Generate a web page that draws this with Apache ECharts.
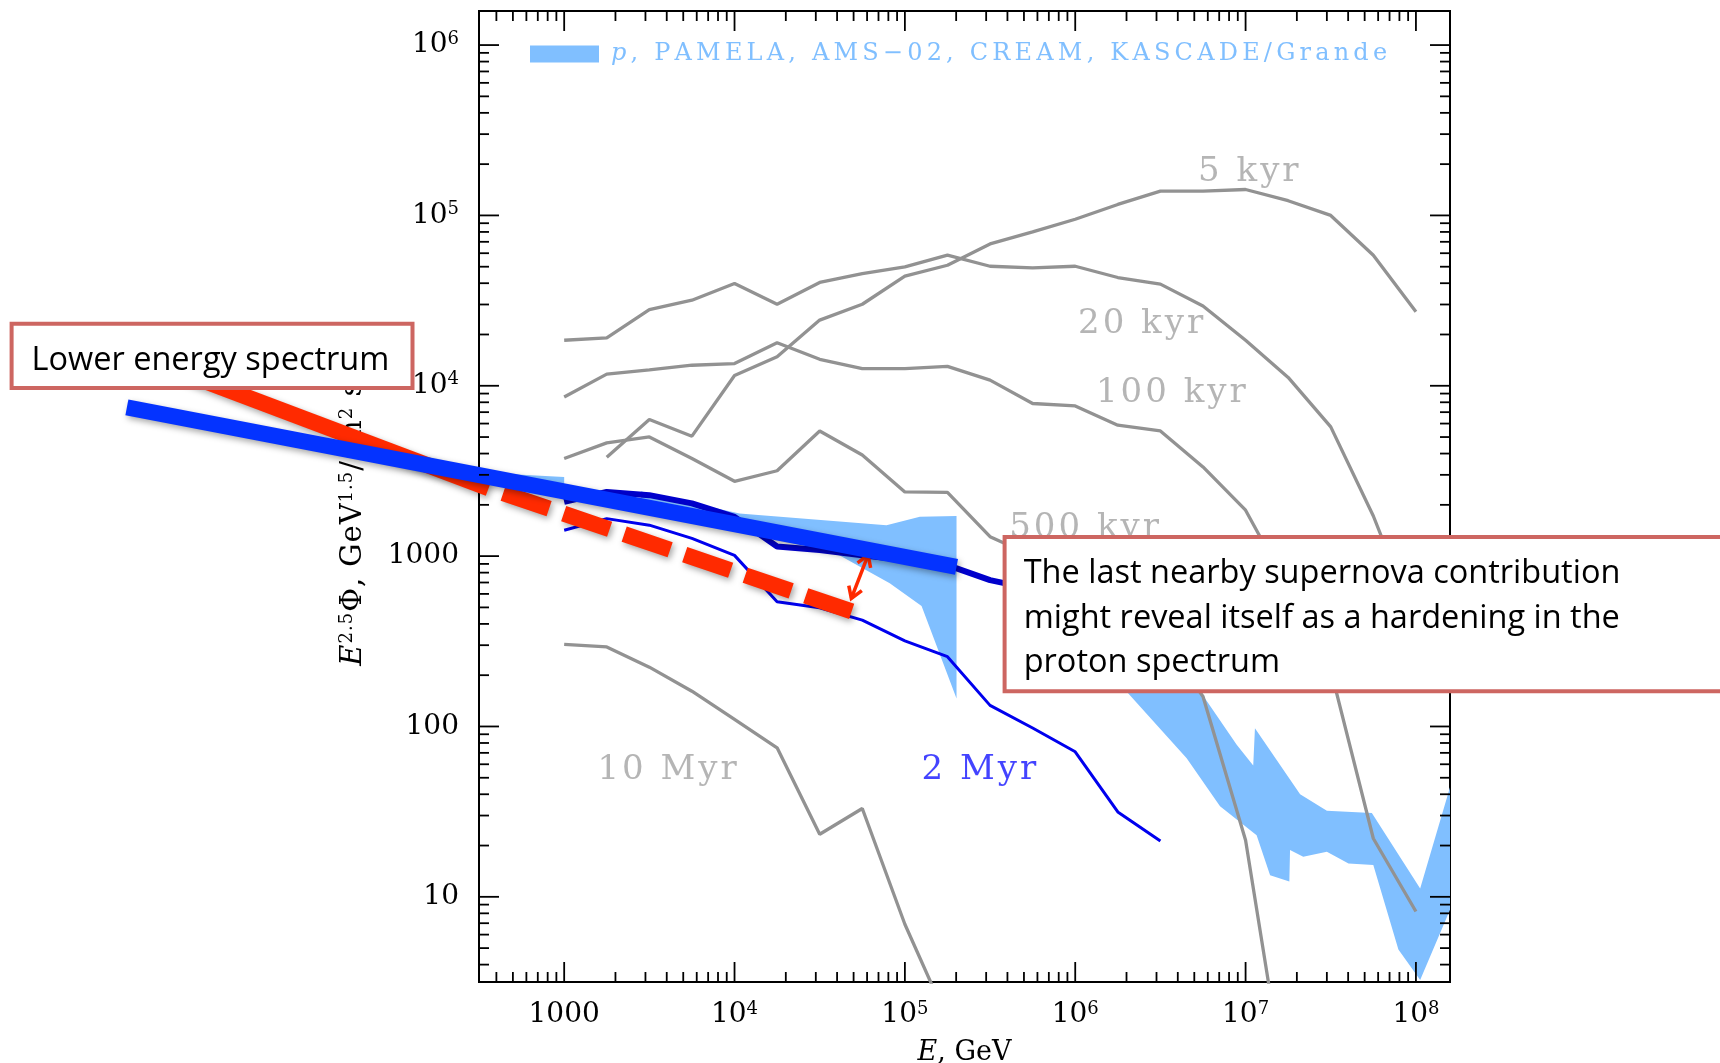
<!DOCTYPE html>
<html>
<head>
<meta charset="utf-8">
<script src="https://cdn.jsdelivr.net/npm/echarts@6/dist/echarts.min.js"></script>
<style>
  html, body { margin: 0; padding: 0; background: #ffffff; }
  #chart { width: 1720px; height: 1063px; }
</style>
</head>
<body>
<div id="chart"></div>
<script>
// ---- axis extents (log scale) ----
const X_MIN = Math.pow(10, 2.5);
const X_MAX = Math.pow(10, 8.2);
const Y_MIN = Math.pow(10, 0.5);
const Y_MAX = Math.pow(10, 6.2);

// ---- tick values ----
const xMajorTicks = [1e3, 1e4, 1e5, 1e6, 1e7, 1e8];
const yMajorTicks = [10, 100, 1000, 1e4, 1e5, 1e6];
const minorMultipliers = [2, 3, 4, 5, 6, 7, 8, 9];

// ---- energy grid of the model curves, GeV ----
const energyGrid = [1000, 1778, 3162, 5623, 10000, 17780, 31620, 56230,
  1e5, 1.778e5, 3.162e5, 5.623e5, 1e6, 1.778e6, 3.162e6, 5.623e6,
  1e7, 1.778e7, 3.162e7, 5.623e7, 1e8];

// ---- E^2.5 * flux of a single source at several ages ----
const flux5kyr   = [null, 3800, 6340, 5060, 11500, 14800, 24300, 30100, 44000, 51000, 68000,
  80000, 95000, 116000, 139000, 139000, 142000, 122000, 100000, 58400, 27200];
const flux20kyr  = [18500, 19100, 28000, 31800, 39800, 30100, 40400, 45600, 49900, 58400, 50300,
  49200, 50300, 43200, 39500, 29400, 18500, 11200, 5740, 1720, 400];
const flux100kyr = [8600, 11700, 12400, 13200, 13500, 17900, 14300, 12600, 12600, 13000, 10800,
  7870, 7620, 5870, 5430, 3340, 1860, 650, 215, 22, 8.2];
const flux500kyr = [3740, 4620, 5010, 3740, 2750, 3170, 5430, 3920, 2380, 2370, 1300,
  1000, 750, 520, 340, 150, 21.5, 0.6, null, null, null];
const flux10Myr  = [303, 293, 223, 161, 110, 75, 23.3, 33, 6.9, 1.9, null,
  null, null, null, null, null, null, null, null, null, null];
const flux2Myr   = [1420, 1660, 1520, 1270, 1010, 540, 498, 421, 318, 257, 133,
  98, 71, 31.5, 21.3, null, null, null, null, null, null];
const flux2MyrTotal = [2080, 2380, 2280, 2040, 1700, 1140, 1085, 1010, 950, 885, 723,
  640, null, null, null, null, null, null, null, null, null];

// ---- measured proton band (upper edge left->right, lower edge right->left) ----
const pamelaUpperE = [316.2, 1000];
const pamelaUpperV = [3100, 2910];
const pamelaLowerE = [1000, 316.2];
const pamelaLowerV = [2500, 2700];

const creamUpperE = [2820, 3162, 10700, 78000, 122400, 201000];
const creamUpperV = [2400, 2330, 1780, 1520, 1700, 1720];
const creamLowerE = [201000, 125300, 81500, 41500, 10000, 2820];
const creamLowerV = [146, 509, 692, 1010, 1550, 2150];

const kascadeUpperE = [8.91e5, 2.0e6, 5.52e6, 8.87e6, 1.109e7, 1.135e7, 2.09e7, 3.0e7, 5.51e7, 1.059e8, 1.5849e8];
const kascadeUpperV = [890, 630, 156, 78, 59, 97.5, 40, 32, 31, 11.2, 44];
const kascadeLowerE = [1.5849e8, 1.059e8, 7.89e7, 5.62e7, 4.02e7, 3.0e7, 2.18e7, 1.824e7, 1.807e7,
  1.393e7, 1.161e7, 7.08e6, 4.51e6, 2.05e6, 8.91e5];
const kascadeLowerV = [8.4, 3.25, 4.9, 15.4, 15.7, 18.4, 17.2, 18.8, 12.3, 13.4, 23, 34, 65, 156, 400];

// ---- hand-drawn power-law guides ----
const lowerEnergyFitE = [2.71, 201000];
const lowerEnergyFitV = [7460, 865];
const softSpectrumE = [3.67, 360];
const softSpectrumV = [14130, 2506];
const softExtrapolationE = [360, 49660];
const softExtrapolationV = [2506, 471];
const hardeningGapE = [60800, 48500];
const hardeningGapV = [1014, 565];

// ---- text ----
const LEGEND_NAME = 'p, PAMELA, AMS\u221202, CREAM, KASCADE/Grande';
const curveLabelText = ['5 kyr', '20 kyr', '100 kyr', '500 kyr', '10 Myr', '2 Myr'];

// ---- styles ----
const GRAY = '#929292';
const GRAY_TEXT = '#a3a3a3';
const BAND_COLOR = '#80bfff';
const BLUE = '#0000ee';
const BLUE_DARK = '#0000cc';
const GUIDE_BLUE = '#0433ff';
const GUIDE_RED = '#ff2a00';
const BOX_STROKE = '#cd6661';
const SERIF = 'DejaVu Serif';
const SANS = 'Open Sans';

// where each curve label sits, in data coordinates
const curveLabelAnchor = [
  [1.038e7, 1.795e5], [2.42e6, 22860], [3.64e6, 9080],
  [1.127e6, 1466], [4018, 55.2], [2.72e5, 55.2]
];

function pairs(xs, ys) {
  const out = [];
  xs.forEach((x, i) => { if (ys[i] != null) out.push([x, ys[i]]); });
  return out;
}

// one rich-text token per character, so the style's padding spaces the letters out
function spaced(text, style) {
  return Array.from(text).map(ch => '{' + style + '|' + ch + '}').join('');
}

const bandPieces = [
  { upE: pamelaUpperE, upV: pamelaUpperV, loE: pamelaLowerE, loV: pamelaLowerV },
  { upE: creamUpperE, upV: creamUpperV, loE: creamLowerE, loV: creamLowerV },
  { upE: kascadeUpperE, upV: kascadeUpperV, loE: kascadeLowerE, loV: kascadeLowerV }
];

function decadeLabel(v) {
  const e = Math.log10(v);
  const r = Math.round(e);
  if (Math.abs(e - r) > 1e-6) return '';
  if (r <= 3) return '{b|' + Math.round(Math.pow(10, r)) + '}';
  return '{b|10}{s|' + r + '}';
}

const tickRich = {
  b: { fontFamily: SERIF, fontSize: 28, lineHeight: 30, color: '#000' },
  s: { fontFamily: SERIF, fontSize: 18, lineHeight: 18, color: '#000', verticalAlign: 'top' }
};

function minorTicks(lo, hi, dMin, dMax) {
  const out = [];
  for (let d = dMin; d <= dMax; d++) {
    minorMultipliers.forEach(k => {
      const v = k * Math.pow(10, d);
      if (v > lo && v < hi) out.push(v);
    });
  }
  return out;
}
const xMinorTicks = minorTicks(X_MIN, X_MAX, 2, 8);
const yMinorTicks = minorTicks(Y_MIN, Y_MAX, 0, 6);

function grayLine(values) {
  return {
    type: 'line', data: pairs(energyGrid, values), showSymbol: false, symbol: 'none',
    lineStyle: { color: GRAY, width: 3.3 }, z: 3, silent: true
  };
}

const guideShadow = { shadowColor: 'rgba(0,0,0,0.35)', shadowBlur: 6, shadowOffsetX: 2, shadowOffsetY: 3 };

// thick guide line drawn through the axes' scales, allowed to run past the frame
function guideSeries(es, vs, extraStyle, z) {
  return {
    type: 'custom', coordinateSystem: 'cartesian2d', clip: false, silent: true, z: z,
    data: [[es[0], vs[0]]], encode: { x: 0, y: 1 },
    renderItem(params, api) {
      const pts = es.map((e, i) => api.coord([e, vs[i]]));
      return {
        type: 'polyline', shape: { points: pts },
        style: Object.assign({ fill: null, lineWidth: 16, lineCap: 'butt' }, guideShadow, extraStyle)
      };
    }
  };
}

const yTitle = '{i|E}' + spaced('2.5', 's') + spaced('\u03A6, GeV', 'n') + spaced('1.5', 's') +
  spaced('/(m', 'n') + spaced('2', 's') + spaced(' s sr)', 'n');

const chart = echarts.init(document.getElementById('chart'), null, { renderer: 'canvas' });

const option = {
  animation: false,
  backgroundColor: '#ffffff',
  grid: {
    left: 479, top: 11, width: 971, height: 971,
    show: true, borderColor: '#000', borderWidth: 2, backgroundColor: 'transparent',
    containLabel: false, outerBoundsMode: 'none'
  },
  legend: {
    data: [LEGEND_NAME], left: 530, top: 42, padding: 0, selectedMode: false,
    icon: 'rect', itemWidth: 69, itemHeight: 17,
    formatter: () => '{ip|p}' + spaced(', PAMELA, AMS\u221202, CREAM, KASCADE/Grande', 'n'),
    textStyle: {
      color: BAND_COLOR,
      rich: {
        ip: { fontFamily: SERIF, fontStyle: 'italic', fontSize: 24, lineHeight: 28, color: BAND_COLOR, padding: [0, 4.2, 0, 7] },
        n: { fontFamily: SERIF, fontSize: 24, lineHeight: 28, color: BAND_COLOR, padding: [0, 4.2, 0, 0] }
      }
    }
  },
  xAxis: {
    type: 'log', logBase: 10, min: X_MIN, max: X_MAX,
    axisLine: { show: false }, axisTick: { show: false }, splitLine: { show: false },
    minorTick: { show: false },
    axisLabel: { formatter: decadeLabel, margin: 18, rich: tickRich, showMinLabel: true, showMaxLabel: true, hideOverlap: false },
    name: '{i|E}{n|, GeV}', nameLocation: 'middle', nameGap: 57, nameMoveOverlap: false,
    nameTextStyle: {
      rich: {
        i: { fontFamily: SERIF, fontStyle: 'italic', fontSize: 27, color: '#000' },
        n: { fontFamily: SERIF, fontSize: 27, color: '#000' }
      }
    }
  },
  yAxis: {
    type: 'log', logBase: 10, min: Y_MIN, max: Y_MAX,
    axisLine: { show: false }, axisTick: { show: false }, splitLine: { show: false },
    minorTick: { show: false },
    axisLabel: { formatter: decadeLabel, margin: 20, rich: tickRich, showMinLabel: true, showMaxLabel: true, hideOverlap: false },
    name: yTitle,
    nameLocation: 'middle', nameGap: 110, nameMoveOverlap: false,
    nameTextStyle: {
      rich: {
        i: { fontFamily: SERIF, fontStyle: 'italic', fontSize: 29, lineHeight: 31, color: '#000', padding: [0, 1, 0, 0] },
        n: { fontFamily: SERIF, fontSize: 29, lineHeight: 31, color: '#000', padding: [0, 1, 0, 0] },
        s: { fontFamily: SERIF, fontSize: 18, lineHeight: 19, color: '#000', verticalAlign: 'top', padding: [0, 1, 0, 0] }
      }
    }
  },
  graphic: [
    { type: 'rect', z: 100, shape: { x: 11.6, y: 323.7, width: 400.9, height: 64.3 },
      style: { fill: '#ffffff', stroke: BOX_STROKE, lineWidth: 4 } },
    { type: 'text', z: 101,
      style: { text: 'Lower energy spectrum', x: 31.5, y: 360.5, fontFamily: SANS, fontSize: 32.5,
        fill: '#000', align: 'left', verticalAlign: 'middle' } },
    { type: 'rect', z: 100, shape: { x: 1004.6, y: 537, width: 760, height: 154.3 },
      style: { fill: '#ffffff', stroke: BOX_STROKE, lineWidth: 4 } },
    { type: 'text', z: 101,
      style: { text: 'The last nearby supernova contribution\nmight reveal itself as a hardening in the\nproton spectrum',
        x: 1023.7, y: 551.5, fontFamily: SANS, fontSize: 32.5, lineHeight: 44.5,
        fill: '#000', align: 'left', verticalAlign: 'top' } }
  ],
  series: [
    {
      type: 'custom', name: LEGEND_NAME, coordinateSystem: 'cartesian2d', z: 1, silent: true,
      itemStyle: { color: BAND_COLOR },
      data: bandPieces.map(p => [p.upE[0], p.upV[0]]),
      encode: { x: 0, y: 1 },
      renderItem(params, api) {
        const piece = bandPieces[params.dataIndex];
        const pts = [];
        piece.upE.forEach((e, i) => pts.push(api.coord([e, piece.upV[i]])));
        piece.loE.forEach((e, i) => pts.push(api.coord([e, piece.loV[i]])));
        return { type: 'polygon', shape: { points: pts }, style: { fill: BAND_COLOR } };
      }
    },
    grayLine(flux5kyr),
    grayLine(flux20kyr),
    grayLine(flux100kyr),
    grayLine(flux500kyr),
    grayLine(flux10Myr),
    {
      type: 'line', data: pairs(energyGrid, flux2Myr), showSymbol: false, symbol: 'none',
      lineStyle: { color: BLUE, width: 3 }, z: 4, silent: true
    },
    {
      type: 'line', data: pairs(energyGrid, flux2MyrTotal), showSymbol: false, symbol: 'none',
      lineStyle: { color: BLUE_DARK, width: 6 }, z: 4, silent: true
    },
    {
      type: 'scatter', symbolSize: 0, z: 5, silent: true,
      data: curveLabelText.map((t, i) => ({ value: curveLabelAnchor[i], name: t })),
      label: {
        show: true, position: 'inside',
        formatter: p => spaced(p.name, p.name === '2 Myr' ? 'b' : 'g'),
        rich: {
          g: { fontFamily: SERIF, fontSize: 34, color: GRAY_TEXT, padding: [0, 1.5, 0, 1.5] },
          b: { fontFamily: SERIF, fontSize: 34, color: '#1414ff', padding: [0, 1.5, 0, 1.5] }
        }
      }
    },
    guideSeries(softSpectrumE, softSpectrumV, { stroke: GUIDE_RED }, 6),
    guideSeries(softExtrapolationE, softExtrapolationV,
      { stroke: GUIDE_RED, lineDash: [48.5, 15.4], lineDashOffset: 48.5 }, 6),
    {
      // double-headed arrow marking the gap between the two spectra
      type: 'custom', coordinateSystem: 'cartesian2d', clip: false, silent: true, z: 7,
      data: [[hardeningGapE[0], hardeningGapV[0]]], encode: { x: 0, y: 1 },
      renderItem(params, api) {
        const a = api.coord([hardeningGapE[0], hardeningGapV[0]]);
        const b = api.coord([hardeningGapE[1], hardeningGapV[1]]);
        const head = (tip, from) => {
          const dx = tip[0] - from[0], dy = tip[1] - from[1];
          const len = Math.hypot(dx, dy), ux = dx / len, uy = dy / len;
          const h = 11, w = 7;
          return [[tip[0] - ux * h - uy * w, tip[1] - uy * h + ux * w], tip,
                  [tip[0] - ux * h + uy * w, tip[1] - uy * h - ux * w]];
        };
        const st = { stroke: GUIDE_RED, lineWidth: 3.5, fill: null, lineJoin: 'miter' };
        return {
          type: 'group', children: [
            { type: 'line', shape: { x1: a[0], y1: a[1], x2: b[0], y2: b[1] }, style: st },
            { type: 'polyline', shape: { points: head(a, b) }, style: st },
            { type: 'polyline', shape: { points: head(b, a) }, style: st }
          ]
        };
      }
    },
    guideSeries(lowerEnergyFitE, lowerEnergyFitV, { stroke: GUIDE_BLUE }, 8),
    {
      // frame ticks on all four sides
      type: 'custom', coordinateSystem: 'cartesian2d', z: 20, silent: true, clip: false,
      data: [[1000, 1000]], encode: { x: 0, y: 1 },
      renderItem(params, api) {
        const kids = [];
        const st = { stroke: '#000', lineWidth: 1.8 };
        const addX = (v, len) => {
          const b = api.coord([v, Y_MIN]);
          const t = api.coord([v, Y_MAX]);
          kids.push({ type: 'line', shape: { x1: b[0], y1: b[1], x2: b[0], y2: b[1] - len }, style: st });
          kids.push({ type: 'line', shape: { x1: t[0], y1: t[1], x2: t[0], y2: t[1] + len }, style: st });
        };
        const addY = (v, len) => {
          const l = api.coord([X_MIN, v]);
          const r = api.coord([X_MAX, v]);
          kids.push({ type: 'line', shape: { x1: l[0], y1: l[1], x2: l[0] + len, y2: l[1] }, style: st });
          kids.push({ type: 'line', shape: { x1: r[0], y1: r[1], x2: r[0] - len, y2: r[1] }, style: st });
        };
        xMajorTicks.forEach(v => addX(v, 20));
        xMinorTicks.forEach(v => addX(v, 10));
        yMajorTicks.forEach(v => addY(v, 20));
        yMinorTicks.forEach(v => addY(v, 10));
        return { type: 'group', children: kids };
      }
    }
  ]
};

chart.setOption(option);
</script>
</body>
</html>
